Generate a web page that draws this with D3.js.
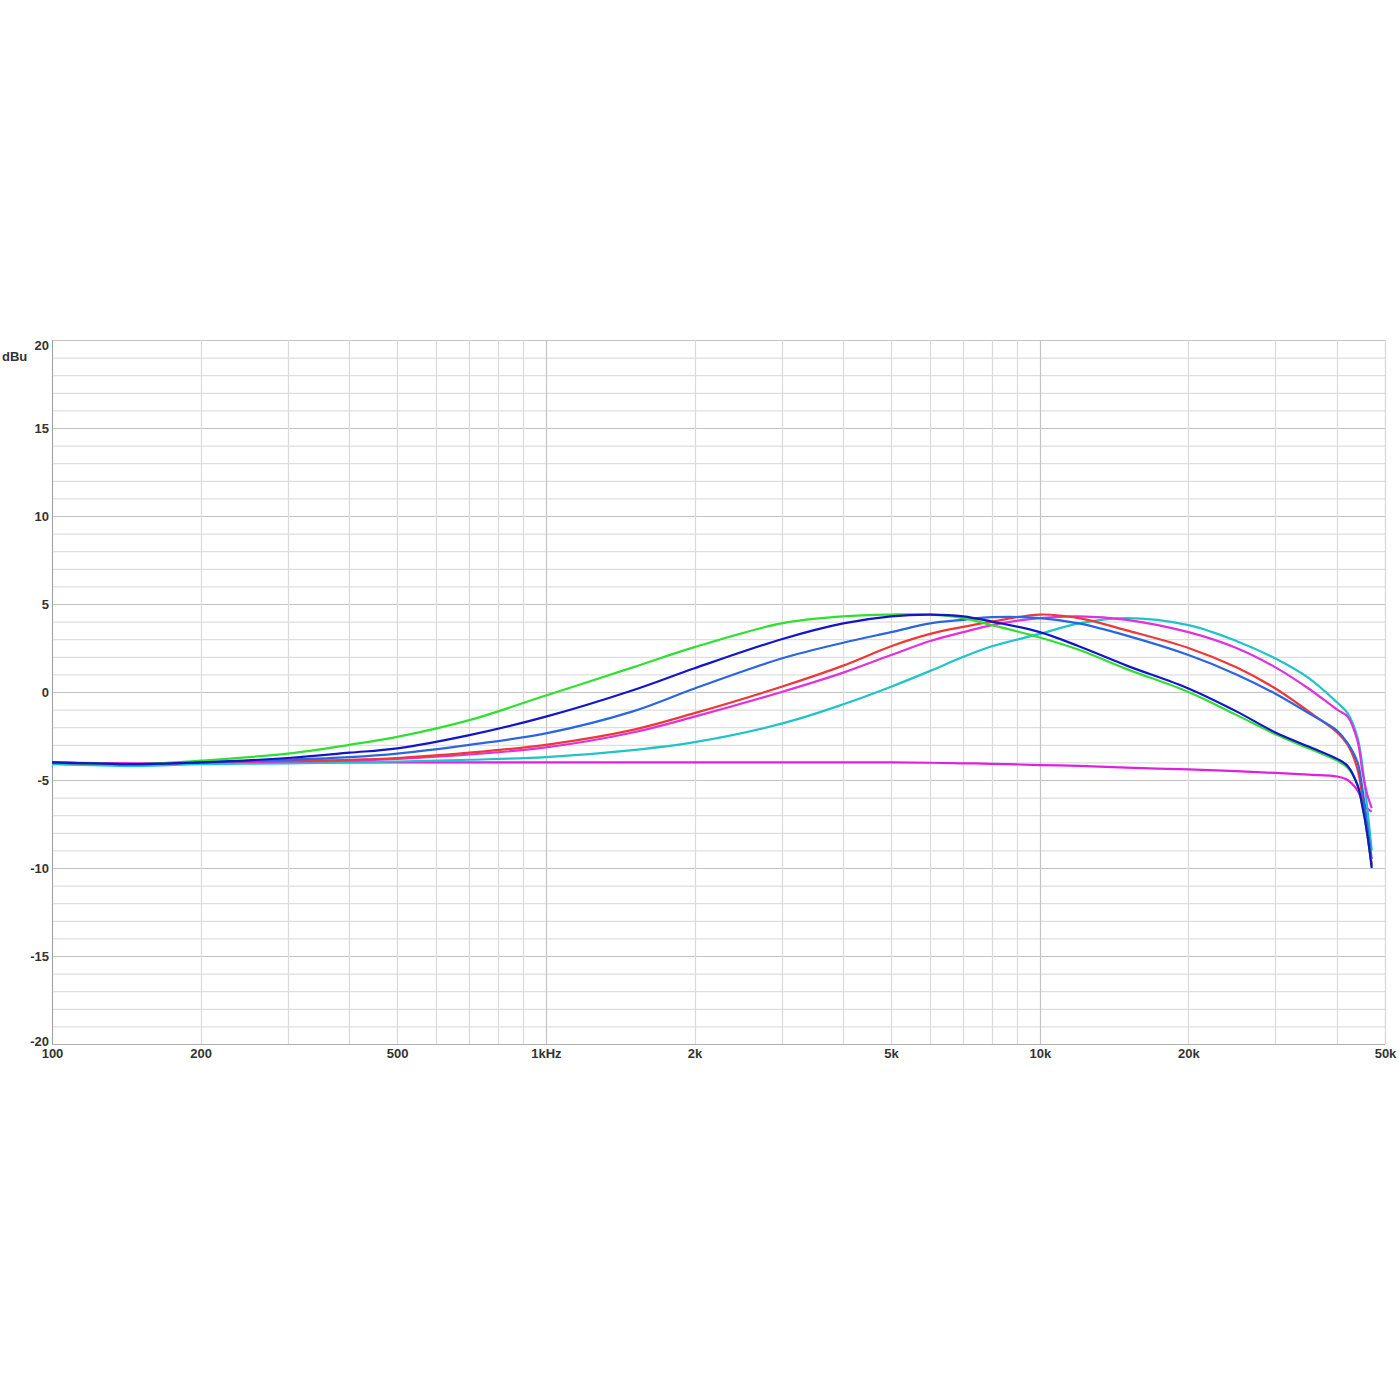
<!DOCTYPE html>
<html lang="en">
  <head>
    <meta charset="utf-8">
    <title>dBu frequency response</title>
    <script src="https://d3js.org/d3.v7.js"></script>
    <style>
      body { margin: 0; background: white; }
      text { font-family: "Liberation Sans", Arial, sans-serif; font-weight: bold; font-size: 13px; fill: #333; }
    </style>
  </head>

  <body>
    <script>

      const freqs = [100, 150, 200, 300, 400, 500, 700, 1000, 1500, 2000, 3000, 4000, 5000, 6000, 7000,
                     8000, 10000, 12000, 15000, 20000, 25000, 30000, 35000, 40000, 42000, 44000, 45000, 46000, 47000];

      // dBu values per curve
      const flatMagenta = [-4.0, -4.05, -4.0, -4.0, -4.0, -4.0, -4.0, -4.0, -4.0, -4.0, -4.0, -4.0, -4.0, -4.02, -4.05,
                           -4.08, -4.15, -4.2, -4.3, -4.4, -4.5, -4.6, -4.7, -4.8, -5.0, -5.6, -6.2, -6.6, -6.8];
      const cyan    = [-4.1, -4.2, -4.1, -4.05, -4.0, -3.95, -3.85, -3.7, -3.3, -2.85, -1.8, -0.7, 0.3, 1.2, 2.0,
                       2.6, 3.3, 3.9, 4.2, 3.8, 2.9, 1.9, 0.8, -0.6, -1.2, -2.6, -4.2, -6.5, -9.0];
      const magenta = [-4.0, -4.1, -4.0, -3.95, -3.9, -3.8, -3.55, -3.15, -2.3, -1.4, 0.0, 1.1, 2.1, 2.9, 3.4,
                       3.8, 4.2, 4.3, 4.1, 3.4, 2.5, 1.4, 0.2, -1.0, -1.4, -2.8, -4.5, -5.8, -6.6];
      const red     = [-4.0, -4.1, -4.0, -3.9, -3.85, -3.75, -3.45, -3.0, -2.15, -1.2, 0.3, 1.5, 2.6, 3.3, 3.7,
                       4.0, 4.4, 4.2, 3.5, 2.5, 1.4, 0.2, -1.1, -2.3, -3.0, -4.4, -6.0, -8.0, -9.8];
      const blue    = [-4.0, -4.1, -4.0, -3.85, -3.7, -3.5, -3.0, -2.35, -1.1, 0.2, 1.9, 2.8, 3.4, 3.9, 4.1,
                       4.25, 4.2, 3.9, 3.2, 2.1, 1.0, -0.1, -1.2, -2.2, -2.9, -4.0, -5.5, -7.5, -9.5];
      const green   = [-4.0, -4.1, -3.9, -3.5, -3.0, -2.55, -1.6, -0.2, 1.4, 2.55, 3.9, 4.3, 4.4, 4.4, 4.2,
                       3.8, 3.1, 2.4, 1.3, 0.0, -1.3, -2.4, -3.2, -3.9, -4.3, -5.3, -6.5, -8.0, -9.9];
      const navy    = [-4.0, -4.1, -4.0, -3.75, -3.45, -3.2, -2.45, -1.4, 0.1, 1.35, 3.0, 3.9, 4.3, 4.4, 4.3,
                       4.0, 3.4, 2.6, 1.5, 0.2, -1.1, -2.3, -3.1, -3.8, -4.2, -5.3, -6.5, -8.0, -10.0];

      const seriesColors = ["#e020e0", "#20c4c8", "#e030e0", "#ee3838", "#2a66e0", "#30e030", "#1414c8"];
      const seriesData = [flatMagenta, cyan, magenta, red, blue, green, navy];

      // tick labels
      const xTicks = [100, 200, 500, 1000, 2000, 5000, 10000, 20000, 50000];
      const xTickLabels = ["100", "200", "500", "1kHz", "2k", "5k", "10k", "20k", "50k"];
      const yTicks = [-20, -15, -10, -5, 0, 5, 10, 15, 20];

      const w = 1400;
      const h = 1400;
      const margin = {top: 340, right: 15, bottom: 356, left: 52};
      const innerWidth = w - margin.left - margin.right;
      const innerHeight = h - margin.top - margin.bottom;

      const xScale = d3.scaleLog()
                       .domain([100, 50000])
                       .range([0, innerWidth]);

      const yScale = d3.scaleLinear()
                       .domain([-20, 20])
                       .range([innerHeight, 0]);

      const svg = d3.select("body")
                    .append("svg")
                    .attr("width", w)
                    .attr("height", h);

      svg.append("rect")
         .attr("width", w)
         .attr("height", h)
         .attr("fill", "white");

      const plot = svg.append("g")
                      .attr("transform", `translate(${margin.left}, ${margin.top})`);

      // grid lines: vertical at 1-9 x decade, horizontal every dB
      const vLines = [];
      [100, 1000, 10000].forEach(dec => {
        for (let m = 1; m <= 9; m++) {
          if (dec * m <= 50000) vLines.push(dec * m);
        }
      });
      vLines.push(50000);

      plot.append("g")
          .selectAll("line")
          .data(d3.range(-20, 21))
          .join("line")
          .attr("x1", 0)
          .attr("x2", innerWidth)
          .attr("y1", d => yScale(d) + 0.5)
          .attr("y2", d => yScale(d) + 0.5)
          .attr("stroke", d => d % 5 === 0 ? "#c4c4c4" : "#dedede")
          .attr("stroke-width", 1.2);

      plot.append("g")
          .selectAll("line")
          .data(vLines)
          .join("line")
          .attr("x1", d => Math.round(xScale(d)) + 0.5)
          .attr("x2", d => Math.round(xScale(d)) + 0.5)
          .attr("y1", 0)
          .attr("y2", innerHeight)
          .attr("stroke", d => (d === 1000 || d === 10000) ? "#c4c4c4" : "#dadada")
          .attr("stroke-width", 1.2);

      // frame
      plot.append("line")
          .attr("x1", 0.5).attr("x2", 0.5)
          .attr("y1", 0).attr("y2", innerHeight)
          .attr("stroke", "#a0a0a0");
      plot.append("line")
          .attr("x1", 0).attr("x2", innerWidth)
          .attr("y1", innerHeight + 0.5).attr("y2", innerHeight + 0.5)
          .attr("stroke", "#b0b0b0");

      // curves
      const line = d3.line()
                     .x((d, i) => xScale(freqs[i]))
                     .y(d => yScale(d))
                     .curve(d3.curveCatmullRom.alpha(0.5));

      plot.append("g")
          .selectAll("path")
          .data(seriesData)
          .join("path")
          .attr("d", d => line(d))
          .attr("fill", "none")
          .attr("stroke", (d, i) => seriesColors[i])
          .attr("stroke-width", 2.2)
          .attr("stroke-linejoin", "round");

      // axes (labels only)
      const xAxis = d3.axisBottom(xScale)
                      .tickValues(xTicks)
                      .tickFormat((d, i) => xTickLabels[i])
                      .tickSize(0)
                      .tickPadding(5);

      const yAxis = d3.axisLeft(yScale)
                      .tickValues(yTicks)
                      .tickFormat(d => String(d))
                      .tickSize(0)
                      .tickPadding(3);

      const gx = plot.append("g")
                     .attr("transform", `translate(0, ${innerHeight})`)
                     .call(xAxis);
      gx.select(".domain").remove();
      gx.selectAll("text").attr("font-size", null).attr("font-family", null);

      const gy = plot.append("g")
                     .call(yAxis);
      gy.select(".domain").remove();
      gy.selectAll("text")
        .attr("font-size", null).attr("font-family", null)
        .attr("dy", d => d === 20 ? "0.75em" : d === -20 ? "0.1em" : "0.32em");

      svg.append("text")
         .attr("x", 2)
         .attr("y", 361)
         .text("dBu");

    </script>
  </body>
</html>
